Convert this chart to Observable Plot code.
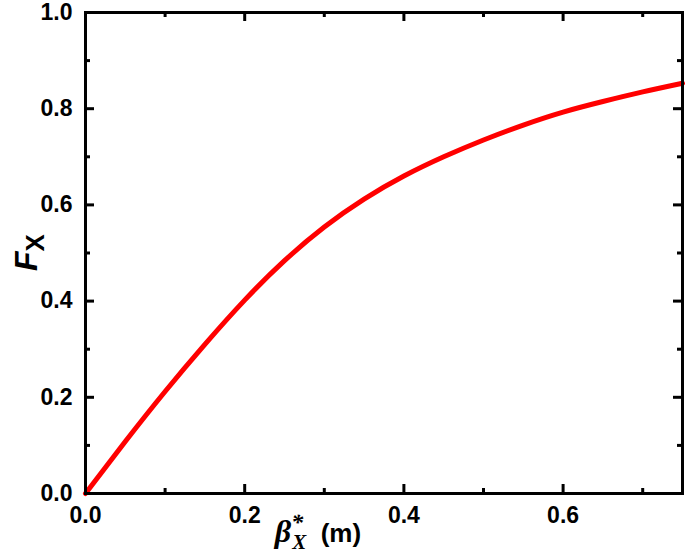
<!DOCTYPE html>
<html>
<head>
<meta charset="utf-8">
<script src="https://cdn.jsdelivr.net/npm/d3@7"></script>
<script src="https://cdn.jsdelivr.net/npm/@observablehq/plot@0.6"></script>
<style>
  body { margin: 0; background: #fff; }
  #chart { width: 685px; height: 549px; }
</style>
</head>
<body>
<div id="chart"></div>
<script>
// Data
const beta = [0, 0.05, 0.10, 0.15, 0.20, 0.25, 0.30, 0.35, 0.40, 0.45, 0.50, 0.55, 0.60, 0.65, 0.70, 0.75];
const fx   = [0, 0.108, 0.212, 0.310, 0.402, 0.484, 0.554, 0.612, 0.660, 0.700, 0.735, 0.766, 0.793, 0.815, 0.835, 0.853];

const xMajor = [0, 0.2, 0.4, 0.6];
const xMinor = [0.1, 0.3, 0.5, 0.7];
const yMajor = [0, 0.2, 0.4, 0.6, 0.8, 1.0];
const yMinor = [0.1, 0.3, 0.5, 0.7, 0.9];

const data = beta.map((b, i) => ({b, f: fx[i]}));

const W = 685, H = 549;
const mL = 85, mR = 3, mT = 12, mB = 56;
const pw = W - mL - mR, ph = H - mT - mB;
const majLen = 9, minLen = 5;

const chart = Plot.plot({
  width: W, height: H,
  marginLeft: mL, marginRight: mR, marginTop: mT, marginBottom: mB,
  style: {fontFamily: "'Liberation Sans', Arial, sans-serif", fontSize: "23px", fontWeight: "bold", color: "#000", background: "#fff"},
  x: {domain: [0, 0.75]},
  y: {domain: [0, 1]},
  marks: [
    Plot.axisX(xMajor, {tickSize: 0, tickPadding: 13, tickFormat: d3.format(".1f"), label: null, fontSize: 23, fontWeight: "bold"}),
    Plot.axisY(yMajor, {tickSize: 0, tickPadding: 13, tickFormat: d3.format(".1f"), label: null, fontSize: 23, fontWeight: "bold"}),
    // bottom & top ticks (inward)
    Plot.tickX(xMajor, {x: d => d, insetTop: ph - majLen, strokeWidth: 3, stroke: "#000"}),
    Plot.tickX(xMinor, {x: d => d, insetTop: ph - minLen, strokeWidth: 3, stroke: "#000"}),
    Plot.tickX(xMajor, {x: d => d, insetBottom: ph - majLen, strokeWidth: 3, stroke: "#000"}),
    Plot.tickX(xMinor, {x: d => d, insetBottom: ph - minLen, strokeWidth: 3, stroke: "#000"}),
    // left & right ticks (inward)
    Plot.tickY(yMajor, {y: d => d, insetRight: pw - majLen, strokeWidth: 3, stroke: "#000"}),
    Plot.tickY(yMinor, {y: d => d, insetRight: pw - minLen, strokeWidth: 3, stroke: "#000"}),
    Plot.tickY(yMajor, {y: d => d, insetLeft: pw - majLen, strokeWidth: 3, stroke: "#000"}),
    Plot.tickY(yMinor, {y: d => d, insetLeft: pw - minLen, strokeWidth: 3, stroke: "#000"}),
    Plot.line(data, {x: "b", y: "f", stroke: "#ff0000", strokeWidth: 5, curve: "natural"}),
    Plot.frame({stroke: "#000", strokeWidth: 3})
  ]
});

document.getElementById("chart").appendChild(chart);

const svg = d3.select(chart);

// Y axis label: F_X
const yl = svg.append("text")
  .attr("transform", `translate(37, ${mT + ph / 2}) rotate(-90)`)
  .attr("text-anchor", "middle")
  .attr("fill", "#000")
  .style("font-family", "'Liberation Sans', Arial, sans-serif")
  .style("font-weight", "bold");
yl.append("tspan").style("font-style", "italic").style("font-size", "32px").text("F");
yl.append("tspan").attr("dy", 7).style("font-size", "26px").text("X");

// X axis label: β*_X (m)
const xl = svg.append("text")
  .attr("x", 318)
  .attr("y", 542)
  .attr("text-anchor", "middle")
  .attr("fill", "#000");
xl.append("tspan").style("font-family", "'Liberation Serif', 'DejaVu Serif', serif").style("font-style", "italic").style("font-size", "32px").text("β");
xl.append("tspan").attr("dy", -12).style("font-family", "'Liberation Serif', serif").style("font-style", "italic").style("font-size", "24px").text("*");
xl.append("tspan").attr("dx", -11).attr("dy", 19).style("font-family", "'Liberation Serif', serif").style("font-style", "italic").style("font-size", "21px").text("X");
xl.append("tspan").attr("dy", -7).style("font-family", "'Liberation Sans', Arial, sans-serif").style("font-weight", "bold").style("font-size", "26px").text("\u00a0\u00a0(m)");
</script>
</body>
</html>
